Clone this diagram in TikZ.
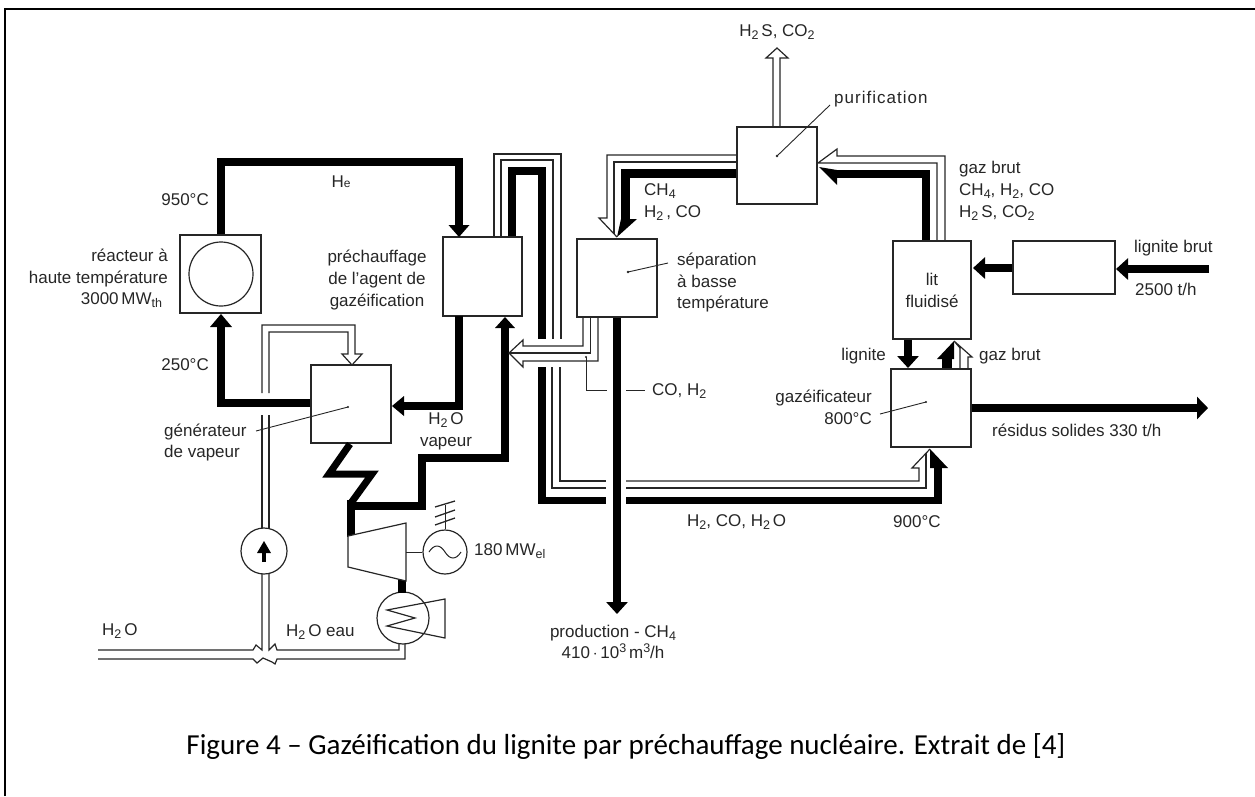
\documentclass[tikz,border=0pt]{standalone}
\usepackage{fontspec}
\setmainfont{Liberation Sans}
\newfontfamily\capfont{Carlito}
\usetikzlibrary{arrows.meta}
\definecolor{ink}{HTML}{262626}
\newcommand{\sbs}[1]{\raisebox{-0.35ex}{\fontsize{12.5}{12.5}\selectfont #1}}
\newcommand{\sps}[1]{\raisebox{0.7ex}{\fontsize{12.5}{12.5}\selectfont #1}}
\tikzset{
  boxn/.style={draw=ink,line width=1.2pt,fill=white,inner sep=0pt,minimum width=#1},
  circn/.style={draw=ink,line width=1.2pt,circle,inner sep=0pt,minimum size=#1},
  lab/.style={font=\fontsize{17}{21.7}\selectfont,text=ink,inner sep=0pt},
  thickline/.style={line width=7.5pt,draw=black,line join=miter},
  thickarrow/.style={thickline,-{Triangle[width=21pt,length=12pt]}},
  pipe/.style={line width=1.2pt,draw=ink,line join=miter},
  fineline/.style={line width=.9pt,draw=ink},
  headfill/.style={fill=black,draw=none},
}
\begin{document}
\begin{tikzpicture}[x=1pt,y=-1pt]
\useasboundingbox (0,0) rectangle (1255,796);
\draw[line width=2.6pt,black] (5,796) -- (5,9) -- (1255,9);

% --- boxes ---
\node[boxn=81pt,minimum height=78pt] (reactor) at (220.5,274) {};
\node[circn=64pt] (core) at (221,274) {};
\node[boxn=79pt,minimum height=79pt] (prec) at (482.5,276.5) {};
\node[boxn=80pt,minimum height=78pt] (gen) at (351,404) {};
\node[boxn=80pt,minimum height=78pt] (sep) at (617,278) {};
\node[boxn=80pt,minimum height=77pt] (purif) at (777,165.5) {};
\node[boxn=78pt,minimum height=98pt] (lit) at (932,290) {};
\node[boxn=80pt,minimum height=78pt] (gasif) at (931,408) {};
\node[boxn=102pt,minimum height=53pt] (crush) at (1064,267.5) {};
\node[circn=46pt,fill=white] (pump) at (264,551) {};
\node[circn=44pt] (alt) at (445,552) {};
\node[circn=52pt] (cond) at (403,618) {};
\coordinate (turbR) at (406,552);
\coordinate (steamJ) at (351,506);
\coordinate (gridtop) at (445,510);
\coordinate (lignIn) at (1209,269);
\coordinate (resOut) at (1208,408);
\coordinate (prodOut) at (617,614);
\coordinate (acidOut) at (777,48);

% --- helium / thick loops ---
\draw[thickline] (reactor.north -| 221,0) -- (221,162) -- (459,162) -- (459,225);
\draw[headfill] (448.5,225) -- (469.5,225) -- (459,237) -- cycle;
\draw[thickline] (459,316) -- (459,406) -- (404,406);
\draw[headfill] (404,396) -- (404,416) -- (392,406) -- cycle;
\draw[thickline] (gen.west |- 0,403) -- (221,403) -- (221,327);
\draw[headfill] (210,327) -- (232,327) -- (221,314) -- cycle;

% steam zigzag and turbine line
\draw[line width=7pt,black,line join=miter,miter limit=6] (350,444) -- (329,474) -- (372,474) -- (351,503);
\draw[thickline] (351,500) -- (351,537);
\draw[thickline] (steamJ) -- (422,506) -- (422,458) -- (505,458) -- (505,328);
\draw[headfill] (495,328) -- (515,328) -- (505,317) -- cycle;
\draw[thickline] (402,580) -- (402,593);

% hot loop around separator
\draw[thickline] (prec.north -| 512,0) -- (512,171) -- (542,171) -- (542,339);
\draw[thickline] (542,367) -- (542,500.5) -- (606,500.5);
\draw[thickline] (626,500.5) -- (938,500.5) -- (938,468);
\draw[headfill] (930,449) -- (948,468) -- (930,468) -- cycle;

% double lines of the same loop
\draw[pipe] (prec.north -| 494,0) -- (494,154) -- (561,154) -- (561,339);
\draw[pipe] (prec.north -| 501,0) -- (501,160) -- (553,160) -- (553,339);
\draw[pipe] (560,367) -- (560,481) -- (606,481);
\draw[pipe] (552,367) -- (552,488) -- (606,488);
\draw[pipe] (626,481) -- (919,481) -- (919,468) -- (912,468) -- (930,449);
\draw[pipe] (626,488) -- (926,488) -- (926,453);

% purification to separator
\draw[line width=9pt,black,line join=miter] (purif.west |- 0,173.5) -- (625.5,173.5) -- (625.5,219);
\draw[headfill] (621,219) -- (637,219) -- (617,237) -- cycle;
\draw[pipe] (purif.west |- 0,155) -- (607,155) -- (607,218) -- (599,218) -- (617,237);
\draw[pipe] (purif.west |- 0,162) -- (614,162) -- (614,234);

% lit fluidise to purification
\draw[line width=8pt,black,line join=miter] (lit.north -| 926,0) -- (926,174) -- (836,174);
\draw[headfill] (837,170) -- (837,185) -- (819,167) -- cycle;
\draw[pipe] (lit.north -| 945,0) -- (945,156) -- (837,156) -- (837,149) -- (818,163) -- (937,163) -- (937,241);

% purification out
\draw[pipe] (purif.north -| 773,0) -- (773,58) -- (766,58) -- (acidOut) -- (788,58) -- (780,58) -- (purif.north -| 780,0);

% separator out
\draw[thickline,-{Triangle[width=21pt,length=12pt]}] (sep.south) -- (prodOut);
\draw[pipe] (sep.south -| 583,0) -- (583,346) -- (523,346) -- (523,340) -- (509,353) -- (523,367) -- (523,361) -- (598,361) -- (598,317);
\draw[pipe] (sep.south -| 590.5,0) -- (590.5,353) -- (509,353);
\fill[ink] (586,357) circle (1.2pt);
\draw[fineline] (586,357) -- (586,390) -- (607,390);
\draw[fineline] (626,390) -- (645,390);

% lignite flows
\draw[thickarrow] (crush.west |- 0,268) -- (973,268);
\draw[thickarrow] (lignIn) -- (1116,269);
\draw[thickarrow] (lit.south -| 908,0) -- (908,368);
\draw[line width=10pt,black] (gasif.north -| 947,0) -- (947,358);
\draw[headfill] (937,359) -- (954,341) -- (954,359) -- cycle;
\draw[pipe] (960,369) -- (960,348) -- (954,341) -- (972,357) -- (968,357) -- (968,369);
\draw[thickarrow,-{Triangle[width=22pt,length=11pt]}] (gasif.east |- 0,408) -- (resOut);

% feed water pipe
\draw[pipe] (262,393) -- (262,325) -- (355,325) -- (355,354) -- (362,354) -- (352,365) -- (342,354) -- (348,354) -- (348,332) -- (269,332) -- (269,393);
\draw[pipe] (262,415) -- (262,528);
\draw[pipe] (269,415) -- (269,528);
\draw[pipe] (262,574) -- (262,650) -- (256,645) -- (253,650) -- (98,650);
\draw[pipe] (269,574) -- (269,650) -- (275,644) -- (277,650) -- (399,650) -- (399,643);
\draw[pipe] (98,659) -- (253,659) -- (257,663) -- (263,658) -- (272,662) -- (275,664) -- (277,659) -- (405,659) -- (405,644);
% pump arrow
\draw[line width=4pt,black] (264,562) -- (264,552);
\draw[headfill] (257,553) -- (271,553) -- (264,541) -- cycle;

% turbine, generator, condenser details
\draw[line width=1.2pt,draw=ink,fill=white] (348,536) -- (406,523) -- (406,581) -- (348,567) -- cycle;
\draw[fineline] (turbR) -- (alt.west);
\draw[fineline] (alt.north) -- (445,505);
\draw[line width=1.3pt,draw=ink] (435,507) -- (455,501) (435,517) -- (455,510) (435,525) -- (455,518);
\draw[line width=1pt,draw=ink] (429,552) .. controls (434,544) and (440,544) .. (445,552) .. controls (450,560) and (456,560) .. (461,552);
\draw[line width=1.2pt,draw=ink,line join=miter] (445,599) -- (387,610) -- (415,618) -- (387,626) -- (445,638) -- cycle;

% --- leader lines ---
\draw[fineline] (256,431) -- (348,407);
\fill[ink] (348,407) circle (1.1pt);
\draw[fineline] (668,263) -- (628,272);
\fill[ink] (628,272) circle (1.4pt);
\draw[fineline] (830,105) -- (777,156);
\fill[ink] (777,156) circle (1.4pt);
\draw[fineline] (880,414) -- (926,402);
\fill[ink] (926,402) circle (1.2pt);

% --- labels ---
\node[lab,anchor=east] (t950) at (209,200) {950°C};
\node[lab,anchor=east] (t250) at (209,365) {250°C};
\node[lab,anchor=east,align=right] (treact) at (168,278.5) {réacteur à\\haute température\\3000\,MW\sbs{th}\,\,};
\node[lab] (the) at (341,182) {H{\fontsize{12}{12}\selectfont e}};
\node[lab,align=center] (tprec) at (377,280) {préchauffage\\de l’agent de\\gazéification};
\node[lab,anchor=west,align=left] (tgen) at (164,442.5) {générateur\\de vapeur};
\node[lab,align=center] (tvap) at (446,431) {H\sbs{2}\,O\\vapeur};
\node[lab,anchor=west] (t180) at (474,551) {180\,MW\sbs{el}};
\node[lab,anchor=west] (th2o) at (102,631) {H\sbs{2}\,O};
\node[lab,anchor=west] (th2oe) at (286,632) {H\sbs{2}\,O eau};
\node[lab,anchor=west,align=left] (tch4) at (644,202) {CH\sbs{4}\\H\sbs{2}\,, CO};
\node[lab,anchor=west,align=left] (tsep) at (677,282.5) {séparation\\à basse\\température};
\node[lab,anchor=west] (tco) at (652,391) {CO, H\sbs{2}};
\node[lab,anchor=west] (tmix) at (687,522) {H\sbs{2}, CO, H\sbs{2}\,O};
\node[lab,align=center] (tprod) at (613,642) {production - CH\sbs{4}\\410\,$\cdot$\,10\sps{3}\,m\sps{3}/h};
\node[lab] (tacid) at (777,32) {H\sbs{2}\,S, CO\sbs{2}};
\node[lab,anchor=west] (tpur) at (834,99) {\addfontfeature{LetterSpace=6}purification};
\node[lab,anchor=west,align=left] (tgaz) at (959,191) {gaz brut\\CH\sbs{4}, H\sbs{2}, CO\\H\sbs{2}\,S, CO\sbs{2}};
\node[lab,anchor=west] (tlb) at (1134,248) {lignite brut};
\node[lab,anchor=west] (t2500) at (1135,289) {2500 t/h};
\node[lab,align=center] (tlit) at (932,290.5) {lit\\fluidisé};
\node[lab,anchor=east] (tlig) at (886,356) {lignite};
\node[lab,anchor=west] (tgb) at (979,356) {gaz brut};
\node[lab,anchor=east,align=right] (tgas) at (872,407.5) {gazéificateur\\800°C};
\node[lab,anchor=west] (tres) at (992,430) {résidus solides 330 t/h};
\node[lab,anchor=west] (t900) at (893,522) {900°C};
\node[font=\capfont\fontsize{29}{34}\selectfont,inner sep=0pt] (cap) at (626,746) {Figure 4 – Gazéification du lignite par préchauffage nucléaire. Extrait de [4]};
\end{tikzpicture}
\end{document}
